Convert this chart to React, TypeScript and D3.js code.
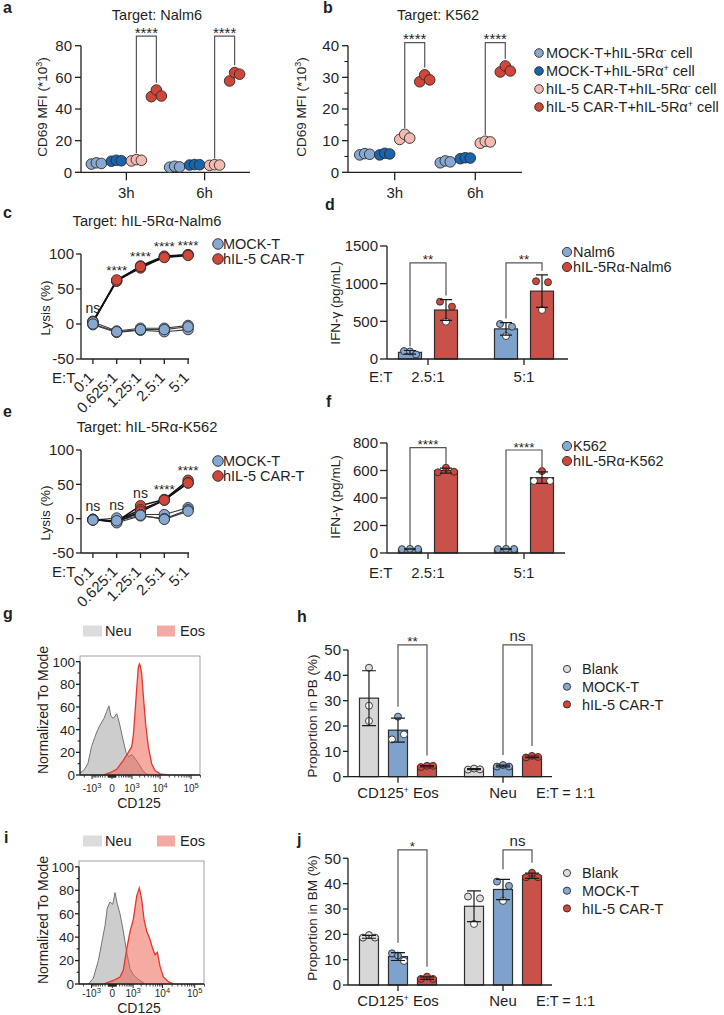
import React from 'react';
import * as d3 from 'd3';

const FONT = "'Liberation Sans', Arial, Helvetica, sans-serif";
const INK = '#1f1f1f';
const LIGHT_BLUE = '#87a8d0';
const DARK_BLUE = '#1a64ad';
const PINK = '#f2bab2';
const RED = '#d0473a';
const BAR_BLUE = '#7ea2cb';
const BAR_RED = '#c8524a';
const BAR_GRAY = '#d7d7d7';
const PT_GRAY = '#dedede';

// ---------- a / b : CD69 MFI (*10^3), [time][replicate]
const TIMES = ['3h', '6h'];
const MFI_KEYS = ['mockNeg', 'mockPos', 'carNeg', 'carPos'];
const MFI_COLORS = [LIGHT_BLUE, DARK_BLUE, PINK, RED];
const MFI_LEGEND = [
  ['MOCK-T+hIL-5Rα', '-'],
  ['MOCK-T+hIL-5Rα', '+'],
  ['hIL-5 CAR-T+hIL-5Rα', '-'],
  ['hIL-5 CAR-T+hIL-5Rα', '+'],
];
const nalm6MockNeg = [[5.2, 6.0, 5.6], [3.2, 3.8, 3.4]];
const nalm6MockPos = [[7.0, 7.6, 7.3], [4.6, 4.9, 4.8]];
const nalm6CarNeg = [[7.2, 8.0, 7.6], [4.4, 4.8, 4.6]];
const nalm6CarPos = [[47.8, 52.0, 48.2], [57.7, 63.0, 62.0]];
const k562MockNeg = [[5.5, 5.9, 5.7], [3.0, 3.6, 3.3]];
const k562MockPos = [[5.5, 6.0, 5.8], [4.3, 4.6, 4.5]];
const k562CarNeg = [[10.4, 12.0, 10.8], [9.2, 9.8, 9.6]];
const k562CarPos = [[28.6, 30.8, 29.2], [31.7, 33.6, 32.0]];

// ---------- c / e : lysis (%), [replicate][E:T ratio]
const RATIOS = ['0:1', '0.625:1', '1.25:1', '2.5:1', '5:1'];
const nalm6LysisCar = [[2, 62, 80, 96, 99], [4, 61, 83, 97, 99], [3, 63, 82, 95, 98]];
const nalm6LysisMock = [[3, -10, -6, -6, -2], [-1, -12, -9, -11, -8], [0, -11, -8, -8, -4]];
const nalm6LysisSig = ['ns', '****', '****', '****', '****'];
const k562LysisCar = [[-1, -4, 19, 28, 56], [-2, -3, 13, 27, 52], [-1, -5, 10, 27, 52]];
const k562LysisMock = [[-2, 1, 6, 6, 16], [-1, -6, 4, 0, 13], [-2, -3, 5, -1, 11]];
const k562LysisSig = ['ns', 'ns', 'ns', '****', '****'];

// ---------- d / f : IFN-γ (pg/mL), [E:T ratio][replicate]
const IFN_RATIOS = ['2.5:1', '5:1'];
const ifnNalm6 = [[105, 100, 60], [465, 305, 429]];
const ifnNalm6Ra = [[761, 495, 695], [1032, 651, 1019]];
const ifnNalm6Sig = ['**', '**'];
const ifnNalm6SigTop = [1275, 1275];
const ifnK562 = [[28, 30, 29], [28, 30, 29]];
const ifnK562Ra = [[587, 620, 591], [524, 596, 524]];
const ifnK562Sig = ['****', '****'];
const ifnK562SigTop = [766, 749];

// ---------- g / i : CD125 histograms, [fluorescence, % of mode]
const pbNeuHist = [[-2850, 2], [-2100, 4], [-1470, 10], [-1050, 25], [-620, 38], [-425, 44], [-240, 50], [-145, 56], [-75, 61], [-25, 52], [30, 50], [125, 54], [215, 46], [365, 32], [540, 20], [730, 16], [1000, 18], [1390, 14], [1930, 9], [2570, 4], [3360, 1], [4350, 0]];
const pbEosHist = [[-270, 0], [-47, 2], [123, 5], [390, 13], [697, 20], [975, 25], [1140, 35], [1330, 55], [1530, 75], [1780, 95], [1950, 98], [2050, 97], [2350, 90], [2700, 70], [3260, 45], [4030, 25], [5240, 10], [6790, 4], [9930, 1], [16400, 0]];
const bmNeuHist = [[-1311, 0], [-846, 5], [-506, 20], [-334, 35], [-202, 50], [-127, 65], [-53, 70], [8, 68], [63, 78], [127, 68], [216, 60], [352, 45], [529, 27], [747, 13], [1018, 8], [1374, 5], [1833, 3], [2720, 0]];
const bmEosHist = [[-266, 0], [22, 3], [216, 6], [352, 12], [529, 30], [747, 45], [1018, 55], [1188, 65], [1374, 75], [1717, 82], [2085, 72], [2517, 55], [3090, 45], [3990, 38], [4890, 30], [5800, 25], [6900, 27], [8400, 15], [10700, 6], [15300, 2], [22600, 0]];

// ---------- h / j : proportion (%), [cell type][replicate]
const CELL_TYPES = ['Eos', 'Neu'];
const PROP_LEGEND = ['Blank', 'MOCK-T', 'hIL-5 CAR-T'];
const pbBlank = [[43, 28, 22], [2.8, 3.2, 2.9]];
const pbMock = [[23.7, 14.7, 16.7], [4.0, 4.6, 4.0]];
const pbCar = [[3.8, 4.3, 4.3], [7.6, 8.2, 7.8]];
const pbSig = ['**', 'ns'];
const pbSigTop = [52, 52];
const bmBlank = [[18.7, 19.7, 18.7], [34.9, 24.1, 34.2]];
const bmMock = [[12.5, 11.6, 9.5], [40.8, 33.2, 39.1]];
const bmCar = [[2.4, 3.3, 2.4], [42.5, 44.3, 42.5]];
const bmSig = ['*', 'ns'];
const bmSigTop = [53.3, 53.3];

type Lin = d3.ScaleLinear<number, number>;

const TICK_FS = 15;

// horizontal offsets for replicate dots that would overlap
function spread(vals: number[], y: (v: number) => number, thr: number, s: number): number[] {
  const idx = vals.map((_, i) => i).sort((a, b) => y(vals[a]) - y(vals[b]));
  const clusters: number[][] = [];
  idx.forEach((i, k) => {
    if (k > 0 && Math.abs(y(vals[i]) - y(vals[idx[k - 1]])) < thr) clusters[clusters.length - 1].push(i);
    else clusters.push([i]);
  });
  const off = vals.map(() => 0);
  clusters.forEach((c) => {
    const m = [...c].sort((a, b) => a - b);
    const n = m.length;
    m.forEach((i, k) => {
      off[i] = (k - (n - 1) / 2) * (n === 2 ? 2 * s : s);
    });
  });
  return off;
}

function YAxis({ x, y, ticks, minor = [], len = 5, fs = TICK_FS, gap = 2, sw = 1.3 }: {
  x: number; y: Lin; ticks: number[]; minor?: number[]; len?: number; fs?: number; gap?: number; sw?: number;
}) {
  const all = [...ticks, ...minor];
  const lo = d3.min(all) as number;
  const hi = d3.max(all) as number;
  return (
    <g>
      <line x1={x} x2={x} y1={y(lo)} y2={y(hi)} stroke={INK} strokeWidth={sw} />
      {ticks.map((t) => (
        <g key={`t${t}`}>
          <line x1={x - len} x2={x} y1={y(t)} y2={y(t)} stroke={INK} strokeWidth={sw} />
          <text x={x - len - gap} y={y(t)} dy="0.36em" textAnchor="end" fontSize={fs}>{String(t)}</text>
        </g>
      ))}
      {minor.map((t) => (
        <line key={`m${t}`} x1={x - len * 0.6} x2={x} y1={y(t)} y2={y(t)} stroke={INK} strokeWidth={sw * 0.85} />
      ))}
    </g>
  );
}

function YLabel({ x, y, fs = 13.5, children }: { x: number; y: number; fs?: number; children: React.ReactNode }) {
  return (
    <text transform={`translate(${x},${y}) rotate(-90)`} textAnchor="middle" fontSize={fs}>{children}</text>
  );
}

function Bracket({ xl, xr, yl, yr, yt, label, fs = 14 }: {
  xl: number; xr: number; yl: number; yr: number; yt: number; label: string; fs?: number;
}) {
  const isStar = label.startsWith('*');
  return (
    <g>
      <path d={`M${xl},${yl}V${yt}H${xr}V${yr}`} fill="none" stroke="#555" strokeWidth={1.2} />
      <text x={(xl + xr) / 2} y={isStar ? yt + 1.5 : yt - 4} textAnchor="middle" fontSize={fs}>{label}</text>
    </g>
  );
}

// ---------- a / b
function MfiPanel(p: {
  series: number[][][]; left: number; right: number; bottom: number; top: number; max: number;
  ticks: number[]; minor: number[]; bracketTop: number; title: string; titleX: number; yLabX: number;
}) {
  const x = d3.scalePoint<string>().domain(TIMES).range([p.left, p.right]).padding(0.58);
  const gx = d3.scalePoint<string>().domain(MFI_KEYS).range([-30, 30]);
  const y = d3.scaleLinear().domain([0, p.max]).range([p.bottom, p.top]);
  const r = 5.3;
  const base = y(0);
  return (
    <g>
      <text x={p.titleX} y={20} textAnchor="middle" fontSize={14.5}>{p.title}</text>
      <YAxis x={p.left} y={y} ticks={p.ticks} minor={p.minor} len={6} gap={3} />
      <YLabel x={p.yLabX} y={(p.top + p.bottom) / 2 - 2}>
        CD69 MFI (*10<tspan dy={-5} fontSize={9}>3</tspan><tspan dy={5}>)</tspan>
      </YLabel>
      <line x1={p.left} x2={p.right} y1={base} y2={base} stroke={INK} strokeWidth={1.3} />
      {TIMES.map((t) => (
        <g key={t}>
          <line x1={x(t)} x2={x(t)} y1={base} y2={base + 8} stroke={INK} strokeWidth={1.3} />
          <text x={x(t)} y={base + 26} textAnchor="middle" fontSize={TICK_FS}>{t}</text>
        </g>
      ))}
      {TIMES.map((t, ti) => {
        const neg = p.series[2][ti];
        const pos = p.series[3][ti];
        const xl = (x(t) as number) + (gx('carNeg') as number);
        const xr = (x(t) as number) + (gx('carPos') as number);
        return (
          <Bracket key={`br${t}`} xl={xl} xr={xr} yl={y(d3.max(neg) as number) - r - 1}
            yr={y(d3.max(pos) as number) - r - 2} yt={y(p.bracketTop)} label="****" fs={15} />
        );
      })}
      {p.series.map((grp, gi) =>
        TIMES.map((t, ti) => {
          const off = spread(grp[ti], y, 2 * r, 5);
          return grp[ti].map((v, ri) => (
            <circle key={`${gi}-${t}-${ri}`} cx={(x(t) as number) + (gx(MFI_KEYS[gi]) as number) + off[ri]}
              cy={y(v)} r={r} fill={MFI_COLORS[gi]} stroke="#2b2b2b" strokeWidth={0.9} />
          ));
        })
      )}
    </g>
  );
}

// ---------- c / e
function LysisPanel(p: {
  car: number[][]; mock: number[][]; sig: string[]; top: number; bottom: number;
  title: string; titleY: number; legendY: number; yLabY: number;
}) {
  const x = d3.scalePoint<string>().domain(RATIOS).range([81, 200]).padding(0.5);
  const y = d3.scaleLinear().domain([-50, 100]).range([p.bottom, p.top]);
  const line = d3.line<number>().x((_, i) => x(RATIOS[i]) as number).y((v) => y(v));
  const yb = y(-50);
  const r = 5.2;
  return (
    <g>
      <text x={147} y={p.titleY} textAnchor="middle" fontSize={14.7}>{p.title}</text>
      <YAxis x={81} y={y} ticks={[-50, 0, 50, 100]} len={5} gap={2} />
      <YLabel x={50} y={p.yLabY}>Lysis (%)</YLabel>
      <line x1={81} x2={(x('5:1') as number) + 1} y1={yb} y2={yb} stroke={INK} strokeWidth={1.3} />
      {RATIOS.map((rt) => (
        <g key={rt}>
          <line x1={x(rt)} x2={x(rt)} y1={yb} y2={yb + 5} stroke={INK} strokeWidth={1.3} />
          <text transform={`translate(${(x(rt) as number) - 2},${yb + 16}) rotate(-45)`} textAnchor="end"
            dy="0.35em" fontSize={TICK_FS}>{rt}</text>
        </g>
      ))}
      <text x={52} y={yb + 24} fontSize={TICK_FS}>E:T</text>
      {p.mock.map((rep, i) => (
        <path key={`ml${i}`} d={line(rep) as string} fill="none" stroke="#3a3a3a" strokeWidth={1.1} />
      ))}
      {p.car.map((rep, i) => (
        <path key={`cl${i}`} d={line(rep) as string} fill="none" stroke="#111" strokeWidth={1.5} />
      ))}
      {p.car.map((rep, i) => rep.map((v, j) => (
        <circle key={`cp${i}-${j}`} cx={x(RATIOS[j])} cy={y(v)} r={r} fill={RED} stroke="#2b2b2b" strokeWidth={0.9} />
      )))}
      {p.mock.map((rep, i) => rep.map((v, j) => (
        <circle key={`mp${i}-${j}`} cx={x(RATIOS[j])} cy={y(v)} r={r} fill={LIGHT_BLUE} stroke="#2b2b2b" strokeWidth={0.9} />
      )))}
      {RATIOS.map((rt, j) => {
        const top = d3.max([...p.car.map((rep) => rep[j]), ...p.mock.map((rep) => rep[j])]) as number;
        const s = p.sig[j];
        return (
          <text key={`s${rt}`} x={x(rt)} y={y(top) - (s === 'ns' ? 8 : 5)} textAnchor="middle" fontSize={s === 'ns' ? 14 : 13.5}>{s}</text>
        );
      })}
      <circle cx={218} cy={p.legendY} r={5.3} fill={LIGHT_BLUE} stroke="#2b2b2b" strokeWidth={0.9} />
      <text x={223} y={p.legendY} dy="0.36em" fontSize={14.5}>MOCK-T</text>
      <circle cx={218} cy={p.legendY + 15} r={5.3} fill={RED} stroke="#2b2b2b" strokeWidth={0.9} />
      <text x={223} y={p.legendY + 15} dy="0.36em" fontSize={14.5}>hIL-5 CAR-T</text>
    </g>
  );
}

// ---------- bars with replicate dots and mean ± SD (d, f, h, j)
type Group = { key: string; values: number[][]; bar: string; pt: string };

function BarPanel(p: {
  cats: string[]; catLabels: React.ReactNode[]; groups: Group[];
  left: number; right: number; axisEnd: number; padding: number; span: number; barW: number;
  max: number; bottom: number; top: number; ticks: number[]; tickLen: number;
  sig: string[]; sigTop: number[]; sigPair: [number, number]; legGap: number;
  r: number; capW: number; jitter: number; catLabelDy: number; sigFs: number[];
}) {
  const x = d3.scalePoint<string>().domain(p.cats).range([p.left, p.right]).padding(p.padding);
  const gx = d3.scalePoint<string>().domain(p.groups.map((g) => g.key)).range([-p.span, p.span]);
  const y = d3.scaleLinear().domain([0, p.max]).range([p.bottom, p.top]);
  const base = y(0);
  const stat = (vals: number[]) => {
    const m = d3.mean(vals) as number;
    const sd = d3.deviation(vals) as number;
    return { m, sd, hi: Math.max(m + sd, d3.max(vals) as number) };
  };
  return (
    <g>
      <YAxis x={p.left} y={y} ticks={p.ticks} len={p.tickLen} gap={2} />
      {p.cats.map((c, ci) => (
        <g key={c}>
          {p.groups.map((g) => {
            const vals = g.values[ci];
            const { m, sd } = stat(vals);
            const cx = (x(c) as number) + (gx(g.key) as number);
            const off = spread(vals, y, 2 * p.r, p.jitter);
            return (
              <g key={g.key}>
                <rect x={cx - p.barW / 2} y={y(m)} width={p.barW} height={base - y(m)} fill={g.bar} stroke="#2e2e2e" strokeWidth={1.2} />
                {vals.map((v, ri) => (
                  <circle key={ri} cx={cx + off[ri]} cy={y(v)} r={p.r}
                    fill={y(v) - y(m) > p.r * 0.8 ? '#fff' : g.pt} stroke="#2b2b2b" strokeWidth={0.9} />
                ))}
                <path d={`M${cx},${y(m - sd)}V${y(m + sd)}M${cx - p.capW / 2},${y(m + sd)}H${cx + p.capW / 2}M${cx - p.capW / 2},${y(m - sd)}H${cx + p.capW / 2}`}
                  fill="none" stroke="#1a1a1a" strokeWidth={1.2} />
              </g>
            );
          })}
        </g>
      ))}
      <line x1={p.left} x2={p.axisEnd} y1={base} y2={base} stroke={INK} strokeWidth={1.3} />
      {p.cats.map((c, ci) => (
        <g key={`ax${c}`}>
          <line x1={x(c)} x2={x(c)} y1={base} y2={base + 6} stroke={INK} strokeWidth={1.3} />
          <text x={x(c)} y={base + p.catLabelDy} textAnchor="middle" fontSize={TICK_FS}>{p.catLabels[ci]}</text>
        </g>
      ))}
      {p.cats.map((c, ci) => {
        const ga = p.groups[p.sigPair[0]];
        const gb = p.groups[p.sigPair[1]];
        const xl = (x(c) as number) + (gx(ga.key) as number);
        const xr = (x(c) as number) + (gx(gb.key) as number);
        return (
          <Bracket key={`br${c}`} xl={xl} xr={xr} yl={y(stat(ga.values[ci]).hi) - p.legGap}
            yr={y(stat(gb.values[ci]).hi) - p.legGap} yt={y(p.sigTop[ci])} label={p.sig[ci]} fs={p.sigFs[ci]} />
        );
      })}
    </g>
  );
}

// ---------- g / i
function SupTick({ v }: { v: number }) {
  if (v === 0) return <>0</>;
  const e = Math.round(Math.log10(Math.abs(v)));
  return (<>{v < 0 ? '-' : ''}10<tspan dy={-4} fontSize={7.5}>{e}</tspan></>);
}

function HistPanel(p: {
  id: string; left: number; right: number; top: number; bottom: number;
  neu: number[][]; eos: number[][]; legendY: number; tickLabelY: number; labelY: number; yLabY: number;
}) {
  const x = d3.scaleSymlog().constant(300).domain([-2850, 193000]).range([p.left, p.right]);
  const y = d3.scaleLinear().domain([0, 105]).range([p.bottom, p.top]);
  const area = d3.area<number[]>().x((d) => x(d[0])).y0(p.bottom).y1((d) => y(d[1]));
  const line = d3.line<number[]>().x((d) => x(d[0])).y((d) => y(d[1]));
  const major = [-1000, 0, 1000, 10000, 100000];
  const minor: number[] = [];
  for (let e = 1; e <= 4; e++) {
    for (let k = 1; k <= 9; k++) {
      const v = k * 10 ** e;
      if (!major.includes(v)) minor.push(v);
      if (!major.includes(-v) && -v > -2850) minor.push(-v);
    }
  }
  minor.push(200000);
  return (
    <g>
      <defs>
        <clipPath id={p.id}><rect x={p.left} y={p.top} width={p.right - p.left} height={p.bottom - p.top} /></clipPath>
      </defs>
      <rect x={83} y={p.legendY - 5.5} width={19} height={11} fill="#dcdcdc" />
      <text x={105} y={p.legendY} dy="0.36em" fontSize={14.5}>Neu</text>
      <rect x={157} y={p.legendY - 5.5} width={18} height={11} fill="#f3aaa3" />
      <text x={180} y={p.legendY} dy="0.36em" fontSize={14.5}>Eos</text>
      <g clipPath={`url(#${p.id})`}>
        <path d={area(p.neu) as string} fill="#cdcdcd" />
        <path d={line(p.neu) as string} fill="none" stroke="#666" strokeWidth={0.9} />
        <path d={area(p.eos) as string} fill="rgb(236,92,76)" fillOpacity={0.52} />
        <path d={line(p.eos) as string} fill="none" stroke="#e5372a" strokeWidth={1.3} />
      </g>
      <rect x={p.left} y={p.top} width={p.right - p.left} height={p.bottom - p.top} fill="none" stroke="#8a8a8a" strokeWidth={0.8} />
      <YAxis x={p.left} y={y} ticks={[0, 20, 40, 60, 80, 100]} minor={[10, 30, 50, 70, 90]} len={4} fs={13.5} gap={1} />
      <line x1={p.left} x2={p.right} y1={p.bottom} y2={p.bottom} stroke={INK} strokeWidth={1.3} />
      {minor.map((v) => (
        <line key={`xm${v}`} x1={x(v)} x2={x(v)} y1={p.bottom} y2={p.bottom + 2.5} stroke={INK} strokeWidth={0.8} />
      ))}
      {major.map((v) => (
        <g key={`xM${v}`}>
          <line x1={x(v)} x2={x(v)} y1={p.bottom} y2={p.bottom + 4} stroke={INK} strokeWidth={1} />
          <text x={x(v)} y={p.tickLabelY} textAnchor="middle" fontSize={10}><SupTick v={v} /></text>
        </g>
      ))}
      <text x={139} y={p.labelY} textAnchor="middle" fontSize={14}>CD125</text>
      <YLabel x={48} y={p.yLabY} fs={14}>Normalized To Mode</YLabel>
    </g>
  );
}

function PropLegend({ y0 }: { y0: number }) {
  const cols = [PT_GRAY, LIGHT_BLUE, RED];
  return (
    <g>
      {PROP_LEGEND.map((t, i) => (
        <g key={t}>
          <circle cx={567} cy={y0 + i * 17.7} r={3.6} fill={cols[i]} stroke="#2b2b2b" strokeWidth={0.9} />
          <text x={582} y={y0 + i * 17.7} dy="0.36em" fontSize={14.5}>{t}</text>
        </g>
      ))}
    </g>
  );
}

function IfnLegend({ y0, names }: { y0: number; names: string[] }) {
  const cols = [LIGHT_BLUE, RED];
  return (
    <g>
      {names.map((t, i) => (
        <g key={t}>
          <circle cx={567} cy={y0 + i * 15} r={4.6} fill={cols[i]} stroke="#2b2b2b" strokeWidth={0.9} />
          <text x={573} y={y0 + i * 15} dy="0.36em" fontSize={14.5}>{t}</text>
        </g>
      ))}
    </g>
  );
}

const eosLabel = (<>CD125<tspan dy={-5} fontSize={8.5}>+</tspan><tspan dy={5}> Eos</tspan></>);

export default function App() {
  const letters: [string, number, number][] = [
    ['a', 3, 13], ['b', 323, 13], ['c', 3, 218], ['d', 325, 210], ['e', 3, 417],
    ['f', 326, 407], ['g', 3, 619], ['h', 297, 622], ['i', 4, 843], ['j', 297, 845],
  ];
  const ifnBars = (blue: number[][], red: number[][]) => [
    { key: 'blue', values: blue, bar: BAR_BLUE, pt: LIGHT_BLUE },
    { key: 'red', values: red, bar: BAR_RED, pt: RED },
  ];
  const propBars = (blank: number[][], mock: number[][], car: number[][]) => [
    { key: 'blank', values: blank, bar: BAR_GRAY, pt: PT_GRAY },
    { key: 'mock', values: mock, bar: BAR_BLUE, pt: LIGHT_BLUE },
    { key: 'car', values: car, bar: BAR_RED, pt: RED },
  ];
  return (
    <svg width={724} height={1015} style={{ position: 'absolute', left: 0, top: 0 }} fontFamily={FONT} fill={INK}>
      <rect width={724} height={1015} fill="#fff" />
      {letters.map(([t, x, y]) => (
        <text key={t} x={x} y={y} fontSize={16} fontWeight="bold">{t}</text>
      ))}

      {/* a */}
      <MfiPanel series={[nalm6MockNeg, nalm6MockPos, nalm6CarNeg, nalm6CarPos]} left={81} right={250}
        bottom={172.3} top={45.7} max={80} ticks={[0, 20, 40, 60, 80]} minor={[]} bracketTop={86}
        title="Target: Nalm6" titleX={157} yLabX={47} />
      {/* b */}
      <MfiPanel series={[k562MockNeg, k562MockPos, k562CarNeg, k562CarPos]} left={348} right={522}
        bottom={172.3} top={45.7} max={40} ticks={[0, 10, 20, 30, 40]} minor={[5, 15, 25, 35]} bracketTop={41}
        title="Target: K562" titleX={438} yLabX={306} />
      {MFI_LEGEND.map(([t, s], i) => (
        <g key={`lg${i}`}>
          <circle cx={539} cy={53 + i * 18} r={4.3} fill={MFI_COLORS[i]} stroke="#2b2b2b" strokeWidth={0.9} />
          <text x={546} y={53 + i * 18} dy="0.36em" fontSize={14.5}>
            {t}<tspan dy={-5} fontSize={9}>{s}</tspan><tspan dy={5}> cell</tspan>
          </text>
        </g>
      ))}

      {/* c */}
      <LysisPanel car={nalm6LysisCar} mock={nalm6LysisMock} sig={nalm6LysisSig} top={254} bottom={359}
        title="Target: hIL-5Rα-Nalm6" titleY={226} legendY={244} yLabY={308} />
      {/* e */}
      <LysisPanel car={k562LysisCar} mock={k562LysisMock} sig={k562LysisSig} top={450} bottom={553}
        title="Target: hIL-5Rα-K562" titleY={432} legendY={461} yLabY={513} />

      {/* d */}
      <BarPanel cats={IFN_RATIOS} catLabels={IFN_RATIOS} groups={ifnBars(ifnNalm6, ifnNalm6Ra)}
        left={387} right={565} axisEnd={568} padding={0.427} span={18} barW={23}
        max={1500} bottom={359} top={246} ticks={[0, 500, 1000, 1500]} tickLen={7}
        sig={ifnNalm6Sig} sigTop={ifnNalm6SigTop} sigPair={[0, 1]} legGap={4}
        r={3.5} capW={12} jitter={6} catLabelDy={23} sigFs={[13.5, 13.5]} />
      <text x={369} y={382} fontSize={TICK_FS}>E:T</text>
      <YLabel x={340} y={303}>IFN-γ (pg/mL)</YLabel>
      <IfnLegend y0={252} names={['Nalm6', 'hIL-5Rα-Nalm6']} />

      {/* f */}
      <BarPanel cats={IFN_RATIOS} catLabels={IFN_RATIOS} groups={ifnBars(ifnK562, ifnK562Ra)}
        left={387} right={565} axisEnd={565} padding={0.427} span={18} barW={23}
        max={800} bottom={553} top={443} ticks={[0, 200, 400, 600, 800]} tickLen={7}
        sig={ifnK562Sig} sigTop={ifnK562SigTop} sigPair={[0, 1]} legGap={3}
        r={3.5} capW={12} jitter={8} catLabelDy={25} sigFs={[13.5, 13.5]} />
      <text x={369} y={578} fontSize={TICK_FS}>E:T</text>
      <YLabel x={340} y={497}>IFN-γ (pg/mL)</YLabel>
      <IfnLegend y0={446} names={['K562', 'hIL-5Rα-K562']} />

      {/* g */}
      <HistPanel id="clipG" left={80} right={200} top={656} bottom={775} neu={pbNeuHist} eos={pbEosHist}
        legendY={631} tickLabelY={792} labelY={808} yLabY={710} />
      {/* i */}
      <HistPanel id="clipI" left={79} right={204} top={861} bottom={984} neu={bmNeuHist} eos={bmEosHist}
        legendY={841} tickLabelY={997} labelY={1013} yLabY={920} />

      {/* h */}
      <BarPanel cats={CELL_TYPES} catLabels={[eosLabel, 'Neu']} groups={propBars(pbBlank, pbMock, pbCar)}
        left={348} right={553} axisEnd={552} padding={0.476} span={29} barW={19}
        max={50} bottom={776.7} top={650} ticks={[0, 10, 20, 30, 40, 50]} tickLen={5}
        sig={pbSig} sigTop={pbSigTop} sigPair={[1, 2]} legGap={10}
        r={3.5} capW={14} jitter={6} catLabelDy={21} sigFs={[13.5, 15]} />
      <text x={536} y={797.7} fontSize={14.5}>E:T = 1:1</text>
      <YLabel x={317} y={716}>Proportion in PB (%)</YLabel>
      <PropLegend y0={669} />

      {/* j */}
      <BarPanel cats={CELL_TYPES} catLabels={[eosLabel, 'Neu']} groups={propBars(bmBlank, bmMock, bmCar)}
        left={348} right={553} axisEnd={552} padding={0.476} span={29} barW={19}
        max={50} bottom={985} top={858.3} ticks={[0, 10, 20, 30, 40, 50]} tickLen={5}
        sig={bmSig} sigTop={bmSigTop} sigPair={[1, 2]} legGap={10}
        r={3.5} capW={14} jitter={6} catLabelDy={21} sigFs={[13.5, 15]} />
      <text x={536} y={1006} fontSize={14.5}>E:T = 1:1</text>
      <YLabel x={317} y={918}>Proportion in BM (%)</YLabel>
      <PropLegend y0={873} />
    </svg>
  );
}
